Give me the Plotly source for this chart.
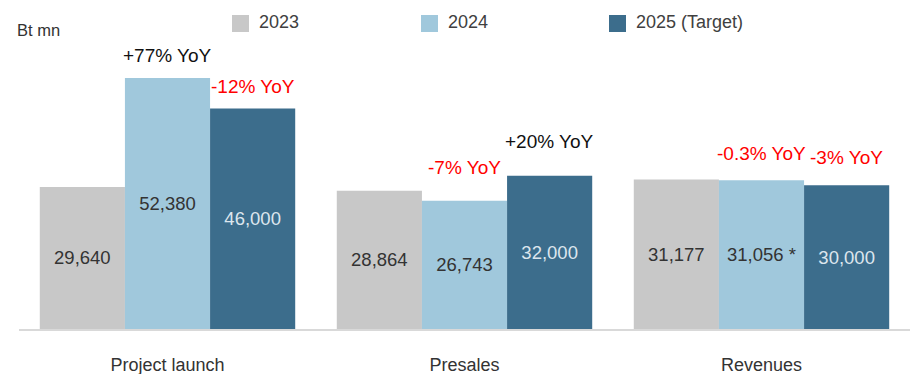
import plotly.graph_objects as go

# ---- data ----
categories = ["Project launch", "Presales", "Revenues"]
series_names = ["2023", "2024", "2025 (Target)"]
values_2023 = [29640, 28864, 31177]
values_2024 = [52380, 26743, 31056]
values_2025 = [46000, 32000, 30000]
label_suffix_2024 = ["", "", " *"]
# YoY labels: (category index, series index, text, is_negative)
yoy_labels = [
    (0, 1, "+77% YoY", False),
    (0, 2, "-12% YoY", True),
    (1, 1, "-7% YoY", True),
    (1, 2, "+20% YoY", False),
    (2, 1, "-0.3% YoY", True),
    (2, 2, "-3% YoY", True),
]
unit_label = "Bt mn"

# ---- style ----
colors = ["#c8c8c8", "#a0c8dc", "#3c6d8c"]
text_colors = ["#333333", "#333333", "#dce6ee"]
yoy_yshift = [21, 21, 32, 33, 25, 26]
FONT = "Liberation Sans, Arial, Helvetica, sans-serif"
W, H = 912, 374
ML, MR, MT, MB = 19, 2, 40, 45
BARGAP = 0.14
plot_w = W - ML - MR
plot_h = H - MT - MB


def px_to_paper_x(px):
    return (px - ML) / plot_w


def px_to_paper_y(py):
    return (H - MB - py) / plot_h


all_values = [values_2023, values_2024, values_2025]
fig = go.Figure()
for k, (name, vals) in enumerate(zip(series_names, all_values)):
    if k == 1:
        texts = [f"{v:,}{s}" for v, s in zip(vals, label_suffix_2024)]
    else:
        texts = [f"{v:,}" for v in vals]
    fig.add_trace(go.Bar(
        x=categories, y=vals, name=name,
        marker=dict(color=colors[k], line=dict(width=0)),
        text=texts, textposition="inside", insidetextanchor="middle",
        textfont=dict(family=FONT, size=18.5, color=text_colors[k]),
        showlegend=False, hoverinfo="skip",
    ))

bar_w = (1 - BARGAP) / 3
annotations = []
for (ci, si, txt, neg), ys in zip(yoy_labels, yoy_yshift):
    annotations.append(dict(
        x=ci + (si - 1) * bar_w, y=all_values[si][ci], xref="x", yref="y",
        text=txt, showarrow=False, yanchor="bottom", yshift=ys - 11,
        font=dict(family=FONT, size=19, color="#ff0000" if neg else "#111111"),
    ))

annotations.append(dict(
    x=px_to_paper_x(15), y=px_to_paper_y(30), xref="paper", yref="paper",
    text=unit_label, showarrow=False, xanchor="left", yanchor="middle",
    font=dict(family=FONT, size=16.5, color="#333333"),
))

shapes = []
legend_x = [232, 421, 609]
for k, name in enumerate(series_names):
    x0 = legend_x[k]
    shapes.append(dict(
        type="rect", xref="paper", yref="paper",
        x0=px_to_paper_x(x0), x1=px_to_paper_x(x0 + 17),
        y0=px_to_paper_y(32), y1=px_to_paper_y(15),
        fillcolor=colors[k], line=dict(width=0),
    ))
    annotations.append(dict(
        x=px_to_paper_x(x0 + 25), y=px_to_paper_y(22), xref="paper", yref="paper",
        text=name, showarrow=False, xanchor="left", yanchor="middle",
        font=dict(family=FONT, size=18, color="#404040"),
    ))

fig.update_layout(
    width=W, height=H,
    margin=dict(l=ML, r=MR, t=MT, b=MB, pad=0, autoexpand=False),
    barmode="group", bargap=BARGAP, bargroupgap=0,
    plot_bgcolor="white", paper_bgcolor="white",
    font=dict(family=FONT, size=18, color="#333333"),
    annotations=annotations, shapes=shapes,
    uniformtext=dict(minsize=18, mode="show"),
)
fig.update_xaxes(
    showline=True, linecolor="#d9d9d9", linewidth=2, ticks="",
    tickfont=dict(family=FONT, size=18, color="#333333"),
    ticklabelstandoff=18, showgrid=False, zeroline=False, automargin=False,
)
fig.update_yaxes(visible=False, range=[0, 60300], showgrid=False, zeroline=False,
                 automargin=False)

fig.write_html("out.html")
